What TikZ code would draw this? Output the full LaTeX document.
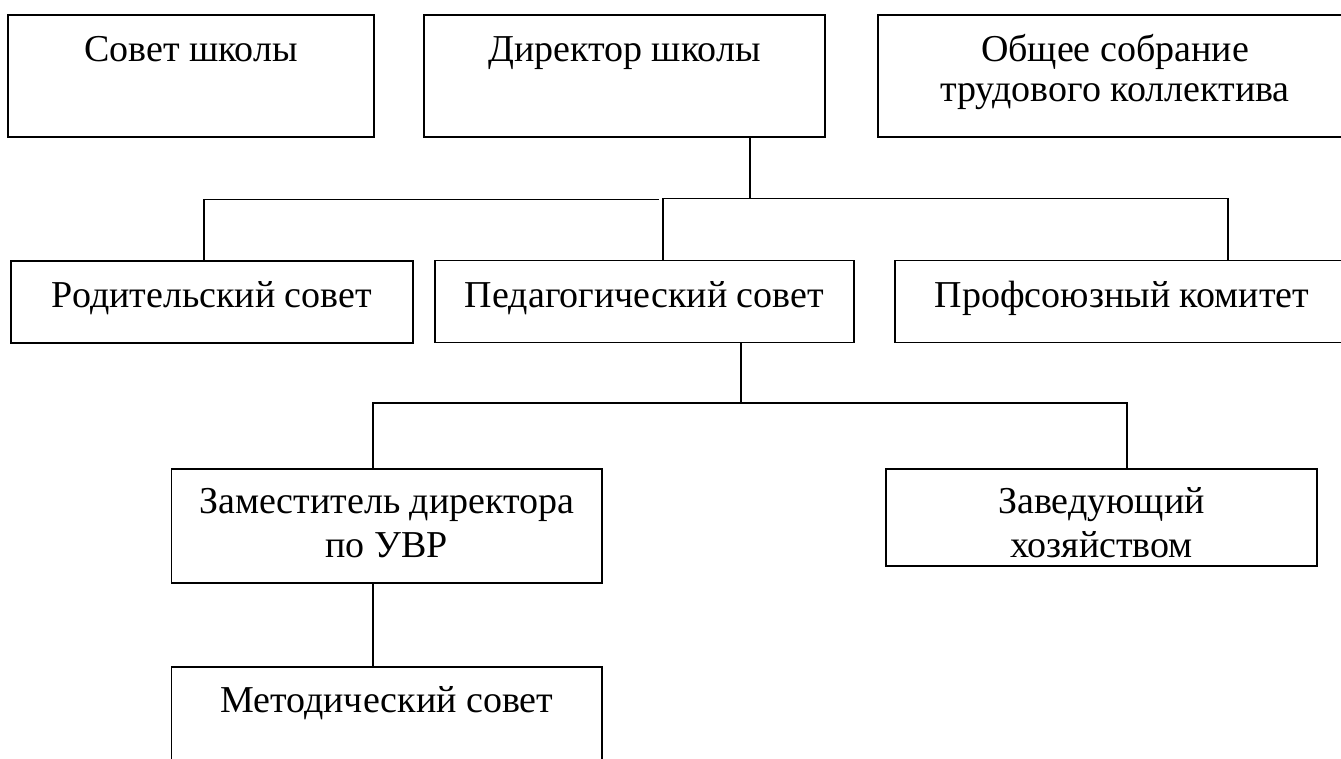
\documentclass[tikz,border=0pt]{standalone}
\usepackage{fontspec}
\setmainfont{Liberation Serif}
\begin{document}
\begin{tikzpicture}[x=1pt,y=-1pt,
  box/.style={draw, line width=1.6pt, rectangle, inner sep=0pt},
  lbl/.style={anchor=base, inner sep=0pt, font=\fontsize{38}{42}\selectfont},
  wire/.style={line width=1.4pt}]
\useasboundingbox (0,0) rectangle (1341,758);
\clip (0,0) rectangle (1341,758);
% top row
\node[box, minimum width=365.5pt, minimum height=122pt] (sovet) at (191,76) {};
\node[box, minimum width=401pt, minimum height=122pt] (dir) at (624.5,76) {};
\node[box, minimum width=474pt, minimum height=122pt] (obsh) at (1115,76) {};
\node[lbl] (tsovet) at (191,61) {Совет школы};
\node[lbl] (tdir) at (624.5,61) {Директор школы};
\node[lbl] (tobsh1) at (1115,61.5) {Общее собрание};
\node[lbl] (tobsh2) at (1115,101.5) {трудового коллектива};
% second row
\node[box, minimum width=402pt, minimum height=82pt] (rod) at (212,302) {};
\node[box, minimum width=419pt, minimum height=82pt] (ped) at (644.5,301.5) {};
\node[box, minimum width=454pt, minimum height=82pt] (prof) at (1122,301.5) {};
\node[lbl] (trod) at (212,307) {Родительский совет};
\node[lbl] (tped) at (644.5,307) {Педагогический совет};
\node[lbl] (tprof) at (1122,307) {Профсоюзный комитет};
% third row
\node[box, minimum width=430.5pt, minimum height=114pt] (zam) at (386.75,526) {};
\node[box, minimum width=431pt, minimum height=97pt] (zav) at (1101.5,517.5) {};
\node[lbl] (tzam1) at (386.75,513) {Заместитель директора};
\node[lbl] (tzam2) at (386.75,557) {по УВР};
\node[lbl] (tzav1) at (1101.5,513) {Заведующий};
\node[lbl] (tzav2) at (1101.5,557) {хозяйством};
% fourth row
\node[box, minimum width=430.5pt, minimum height=115pt] (met) at (386.75,724.5) {};
\node[lbl] (tmet) at (386.75,712) {Методический совет};
% connectors
\coordinate (j1) at (750,198.5);
\coordinate (jl) at (659,199.5);
\coordinate (jr) at (663,198.5);
\coordinate (jprof) at (1228,198.5);
\coordinate (jrod) at (204,199.5);
\draw[wire] (dir.south -| j1) -- (j1);
\draw[wire] (rod.north -| jrod) -- (jrod) -- (jl);
\draw[wire] (ped.north -| jr) -- (jr) -- (jprof) -- (prof.north -| jprof);
\coordinate (k1) at (741,403);
\coordinate (kl) at (373,403);
\coordinate (kr) at (1127,403);
\draw[wire] (ped.south -| k1) -- (k1);
\draw[wire] (zam.north -| kl) -- (kl) -- (kr) -- (zav.north -| kr);
\draw[wire] (zam.south -| kl) -- (met.north -| kl);
\end{tikzpicture}
\end{document}
